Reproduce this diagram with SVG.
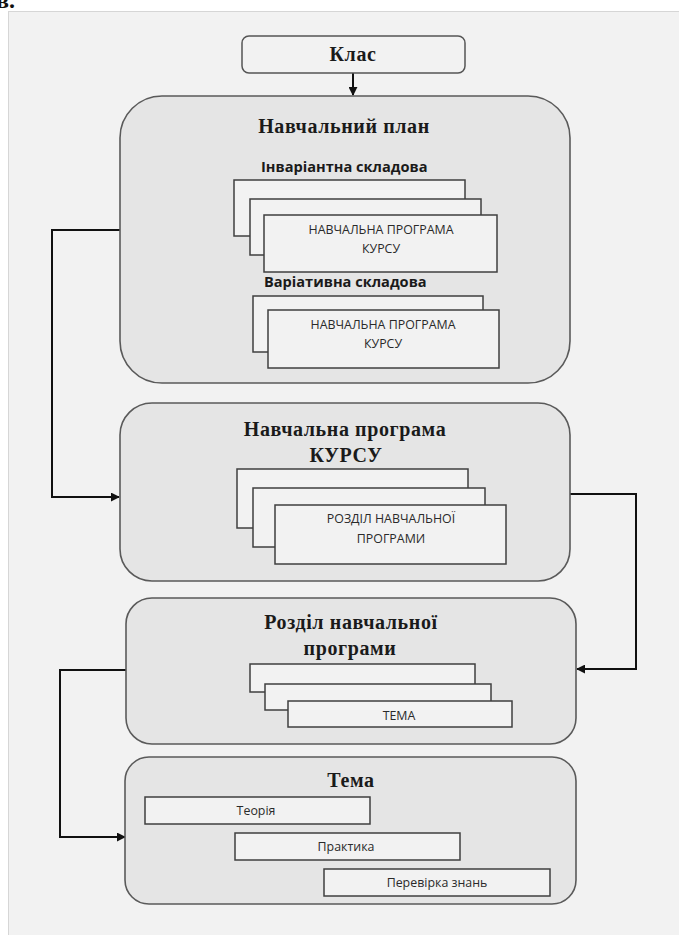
<svg xmlns="http://www.w3.org/2000/svg" width="679" height="935" viewBox="0 0 679 935">
<defs>
<style>
.big{fill:#e5e5e5;stroke:#5a5a5a;stroke-width:1.6}
.card{fill:#f2f2f2;stroke:#3f3f3f;stroke-width:1.5}
.title{font-family:"Liberation Serif","Times New Roman",serif;font-weight:bold;font-size:20px;letter-spacing:0.6px;fill:#1a1a1a;text-anchor:middle}
.sub{font-family:"Open Sans","Noto Sans",sans-serif;font-weight:bold;font-size:14.6px;fill:#1a1a1a}
.lbl{font-family:"Open Sans","Noto Sans",sans-serif;font-size:12.4px;fill:#2a2a2a;text-anchor:middle}
.conn{fill:none;stroke:#111;stroke-width:2}
</style>
<marker id="arr" viewBox="0 0 10 10" refX="9" refY="5" markerWidth="4.5" markerHeight="4.5" orient="auto" markerUnits="strokeWidth">
<path d="M0,0 L10,5 L0,10 z" fill="#111"/>
</marker>
</defs>
<rect x="0" y="0" width="679" height="935" fill="#ffffff"/>
<text x="-4" y="8" font-family="Liberation Serif, serif" font-weight="bold" font-size="24" fill="#111">в.</text>
<rect x="8.5" y="11.5" width="680" height="930" fill="#f2f2f2" stroke="#d6d6d6" stroke-width="1"/>

<g id="connectors">
<line class="conn" x1="353" y1="73" x2="353" y2="95" marker-end="url(#arr)"/>
<polyline class="conn" points="120,230 52,230 52,497 119,497" marker-end="url(#arr)"/>
<polyline class="conn" points="570,494 636,494 636,669 577,669" marker-end="url(#arr)"/>
<polyline class="conn" points="126,670 60,670 60,837 125,837" marker-end="url(#arr)"/>
</g>

<g id="klas">
<rect x="242" y="36" width="223" height="37" rx="7" fill="#f2f2f2" stroke="#555" stroke-width="1.5"/>
<text class="title" x="353" y="61">Клас</text>
</g>

<g id="navch-plan">
<rect class="big" x="120" y="96" width="450" height="287" rx="42"/>
<text class="title" x="344" y="133">Навчальний план</text>
<text class="sub" x="261" y="172">Інваріантна складова</text>
<rect class="card" x="234" y="180" width="231" height="56"/>
<rect class="card" x="250" y="199" width="231" height="56"/>
<rect class="card" x="264" y="215" width="233" height="57"/>
<text class="lbl" x="381" y="234">НАВЧАЛЬНА ПРОГРАМА</text>
<text class="lbl" x="381" y="253">КУРСУ</text>
<text class="sub" x="264" y="287">Варіативна складова</text>
<rect class="card" x="253" y="296" width="230" height="56"/>
<rect class="card" x="268" y="310" width="231" height="58"/>
<text class="lbl" x="383" y="329">НАВЧАЛЬНА ПРОГРАМА</text>
<text class="lbl" x="383" y="348">КУРСУ</text>
</g>

<g id="navch-prog">
<rect class="big" x="120" y="403" width="450" height="178" rx="32"/>
<text class="title" x="345" y="436">Навчальна програма</text>
<text class="title" x="346" y="462">КУРСУ</text>
<rect class="card" x="237" y="469" width="231" height="59"/>
<rect class="card" x="253" y="488" width="232" height="59"/>
<rect class="card" x="275" y="505" width="231" height="59"/>
<text class="lbl" x="391" y="523">РОЗДІЛ НАВЧАЛЬНОЇ</text>
<text class="lbl" x="391" y="543">ПРОГРАМИ</text>
</g>

<g id="rozdil">
<rect class="big" x="126" y="598" width="450" height="146" rx="26"/>
<text class="title" x="351" y="629">Розділ навчальної</text>
<text class="title" x="350" y="655">програми</text>
<rect class="card" x="250" y="664" width="225" height="28"/>
<rect class="card" x="265" y="684" width="226" height="26"/>
<rect class="card" x="288" y="701" width="224" height="26"/>
<text class="lbl" x="399" y="720">ТЕМА</text>
</g>

<g id="tema">
<rect class="big" x="125" y="757" width="451" height="147" rx="24"/>
<text class="title" x="351" y="787">Тема</text>
<rect class="card" x="145" y="797" width="225" height="27"/>
<text class="lbl" x="256" y="815">Теорія</text>
<rect class="card" x="235" y="833" width="225" height="27"/>
<text class="lbl" x="346" y="851">Практика</text>
<rect class="card" x="324" y="869" width="226" height="27"/>
<text class="lbl" x="437" y="887">Перевірка знань</text>
</g>
</svg>
